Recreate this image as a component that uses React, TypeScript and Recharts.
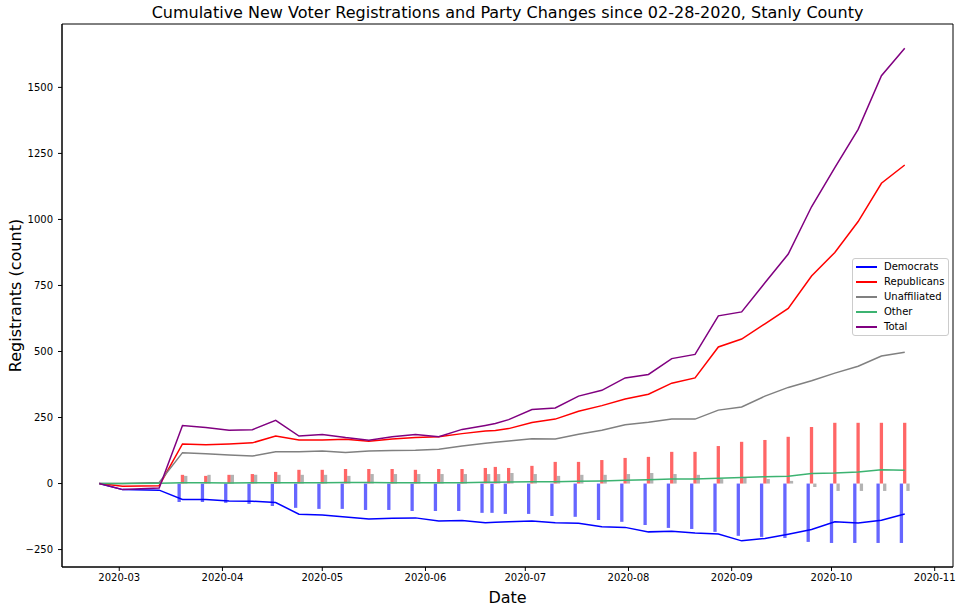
import { ComposedChart, Line, Bar, XAxis, YAxis, Legend, ReferenceArea } from 'recharts';

// weekly snapshot dates
const dates = [
  '2020-02-24', '2020-03-02', '2020-03-13', '2020-03-20', '2020-03-27', '2020-04-03',
  '2020-04-10', '2020-04-17', '2020-04-24', '2020-05-01', '2020-05-08', '2020-05-15',
  '2020-05-22', '2020-05-29', '2020-06-05', '2020-06-12', '2020-06-19', '2020-06-22',
  '2020-06-26', '2020-07-03', '2020-07-10', '2020-07-17', '2020-07-24', '2020-07-31',
  '2020-08-07', '2020-08-14', '2020-08-21', '2020-08-28', '2020-09-04', '2020-09-11',
  '2020-09-18', '2020-09-25', '2020-10-02', '2020-10-09', '2020-10-16', '2020-10-23',
];

// cumulative registrations
const democrats = [0, -23, -25, -60, -60, -66, -67, -72, -116, -119, -127, -134, -131, -130, -142, -140, -148, -147, -145, -142, -148, -150, -164, -166, -183, -181, -187, -191, -217, -208, -192, -174, -145, -149, -139, -115];
const republicans = [0, -10, -8, 150, 147, 150, 154, 180, 165, 165, 168, 160, 169, 174, 177, 189, 199, 201, 208, 231, 244, 274, 295, 320, 338, 380, 400, 517, 547, 605, 663, 786, 875, 992, 1137, 1206];
const unaffiliated = [0, 0, 4, 117, 113, 108, 104, 120, 120, 123, 118, 123, 125, 126, 130, 142, 153, 156, 161, 170, 169, 187, 202, 223, 232, 244, 244, 278, 290, 331, 364, 389, 418, 444, 483, 497];
const other = [0, 0, 1, 3, 3, 2, 3, 3, 3, 3, 4, 4, 3, 3, 3, 3, 5, 5, 6, 7, 7, 9, 10, 12, 14, 17, 17, 20, 23, 26, 28, 38, 40, 44, 52, 50];
const total = [0, -23, -17, 220, 212, 202, 204, 239, 180, 186, 174, 164, 177, 186, 177, 205, 220, 227, 242, 280, 286, 331, 353, 400, 413, 473, 489, 635, 650, 760, 869, 1048, 1196, 1341, 1544, 1648];

// cumulative party changes (bars)
const demChanges = [null, null, null, -70, -70, -73, -77, -85, -92, -96, -96, -100, -100, -104, -104, -104, -111, -111, -115, -115, -123, -126, -138, -145, -157, -168, -172, -183, -198, -202, -206, -221, -225, -225, -225, -225];
const repChanges = [null, null, null, 33, 29, 33, 36, 44, 52, 52, 55, 55, 55, 52, 55, 55, 59, 63, 59, 67, 82, 82, 89, 97, 101, 120, 120, 142, 158, 165, 177, 214, 230, 230, 230, 230];
const unaChanges = [null, null, null, 29, 33, 33, 33, 33, 33, 33, 29, 36, 36, 36, 36, 36, 36, 36, 40, 36, 29, 33, 33, 36, 40, 36, 33, 17, 21, 17, 10, -13, -28, -28, -28, -28];

const seriesNames = ['Democrats', 'Republicans', 'Unaffiliated', 'Other', 'Total'];
const monthLabels = ['2020-03', '2020-04', '2020-05', '2020-06', '2020-07', '2020-08', '2020-09', '2020-10', '2020-11'];
const yTicks = [-250, 0, 250, 500, 750, 1000, 1250, 1500];

const DAY = 86400000;
const toTime = (d: string) => Date.parse(d + 'T00:00:00Z');
const start = toTime('2020-03-01');
const xMin = start - 17.2 * DAY;
const xMax = start + 250.5 * DAY;
const yMin = -316;
const yMax = 1740;

const monthTicks = monthLabels.map(m => toTime(m + '-01'));

const data = dates.map((d, i) => ({
  t: toTime(d),
  dem: democrats[i],
  rep: republicans[i],
  una: unaffiliated[i],
  oth: other[i],
  tot: total[i],
  demChg: demChanges[i],
  repChg: repChanges[i],
  unaChg: unaChanges[i],
}));

const font = '"DejaVu Sans", sans-serif';

const fmtMonth = (t: number) => {
  const d = new Date(t);
  return d.getUTCFullYear() + '-' + String(d.getUTCMonth() + 1).padStart(2, '0');
};
const fmtY = (v: number) => (v < 0 ? '\u2212' + Math.abs(v) : String(v));

function LegendBox(props: any) {
  // keep plotting order, not alphabetical
  const items = (props.payload || [])
    .filter((p: any) => p.type !== 'none')
    .slice()
    .sort((a: any, b: any) => seriesNames.indexOf(a.value) - seriesNames.indexOf(b.value));
  return (
    <div style={{
      border: '1px solid #cccccc', borderRadius: 3, background: 'rgba(255,255,255,0.8)',
      padding: '0 0 1px 3px', fontFamily: font, fontSize: 10, color: '#000',
    }}>
      {items.map((p: any) => (
        <div key={p.value} style={{ display: 'flex', alignItems: 'center', height: 15 }}>
          <svg width={21} height={4} style={{ marginRight: 7 }}>
            <line x1={0} y1={2} x2={21} y2={2} stroke={p.color} strokeWidth={2} />
          </svg>
          <span>{p.value}</span>
        </div>
      ))}
    </div>
  );
}

export default function App() {
  return (
    <div style={{ position: 'absolute', left: 0, top: 0, width: 962, height: 611, background: '#fff' }}>
      <div style={{
        position: 'absolute', left: 62, width: 891, top: 5, textAlign: 'center',
        fontFamily: font, fontSize: 16, lineHeight: '16px', color: '#000', whiteSpace: 'nowrap',
      }}>
        Cumulative New Voter Registrations and Party Changes since 02-28-2020, Stanly County
      </div>
      <ComposedChart
        width={962}
        height={611}
        data={data}
        margin={{ top: 24, right: 9, bottom: 0, left: 0 }}
        barSize={3.3}
        barGap={0}
        barCategoryGap={0}
        style={{ fontFamily: font }}
      >
        <XAxis
          dataKey="t"
          type="number"
          domain={[xMin, xMax]}
          allowDataOverflow
          ticks={monthTicks}
          interval={0}
          tickFormatter={fmtMonth}
          height={44}
          tickSize={4}
          tickMargin={3}
          tick={{ fontSize: 10, fill: '#000' }}
          tickLine={{ stroke: '#000' }}
          axisLine={{ stroke: '#000' }}
          label={{ value: 'Date', position: 'insideBottom', offset: 8, style: { fontSize: 16, fill: '#000' } }}
        />
        <YAxis
          type="number"
          domain={[yMin, yMax]}
          allowDataOverflow
          ticks={yTicks}
          interval={0}
          tickFormatter={fmtY}
          width={62}
          tickSize={4}
          tickMargin={5}
          tick={{ fontSize: 10, fill: '#000' }}
          tickLine={{ stroke: '#000' }}
          axisLine={{ stroke: '#000' }}
          label={{ value: 'Registrants (count)', angle: -90, position: 'insideLeft', offset: 15, style: { fontSize: 16, fill: '#000', textAnchor: 'middle' } }}
        />
        <Bar dataKey="demChg" fill="#0000ff" fillOpacity={0.6} legendType="none" isAnimationActive={false} />
        <Bar dataKey="repChg" fill="#ff0000" fillOpacity={0.6} legendType="none" isAnimationActive={false} />
        <Bar dataKey="unaChg" fill="#808080" fillOpacity={0.6} legendType="none" isAnimationActive={false} />
        <Line type="linear" dataKey="dem" name="Democrats" stroke="#0000ff" strokeWidth={1.5} dot={false} isAnimationActive={false} />
        <Line type="linear" dataKey="rep" name="Republicans" stroke="#ff0000" strokeWidth={1.5} dot={false} isAnimationActive={false} />
        <Line type="linear" dataKey="una" name="Unaffiliated" stroke="#808080" strokeWidth={1.5} dot={false} isAnimationActive={false} />
        <Line type="linear" dataKey="oth" name="Other" stroke="#3cb371" strokeWidth={1.5} dot={false} isAnimationActive={false} />
        <Line type="linear" dataKey="tot" name="Total" stroke="#800080" strokeWidth={1.5} dot={false} isAnimationActive={false} />
        <ReferenceArea x1={xMin} x2={xMax} y1={yMin} y2={yMax} fill="none" stroke="#000" strokeWidth={1} ifOverflow="visible" />
        <Legend
          layout="horizontal"
          align="center"
          verticalAlign="middle"
          content={<LegendBox />}
          wrapperStyle={{ position: 'absolute', left: 852, top: 258, width: 97, height: 'auto' }}
        />
      </ComposedChart>
    </div>
  );
}
